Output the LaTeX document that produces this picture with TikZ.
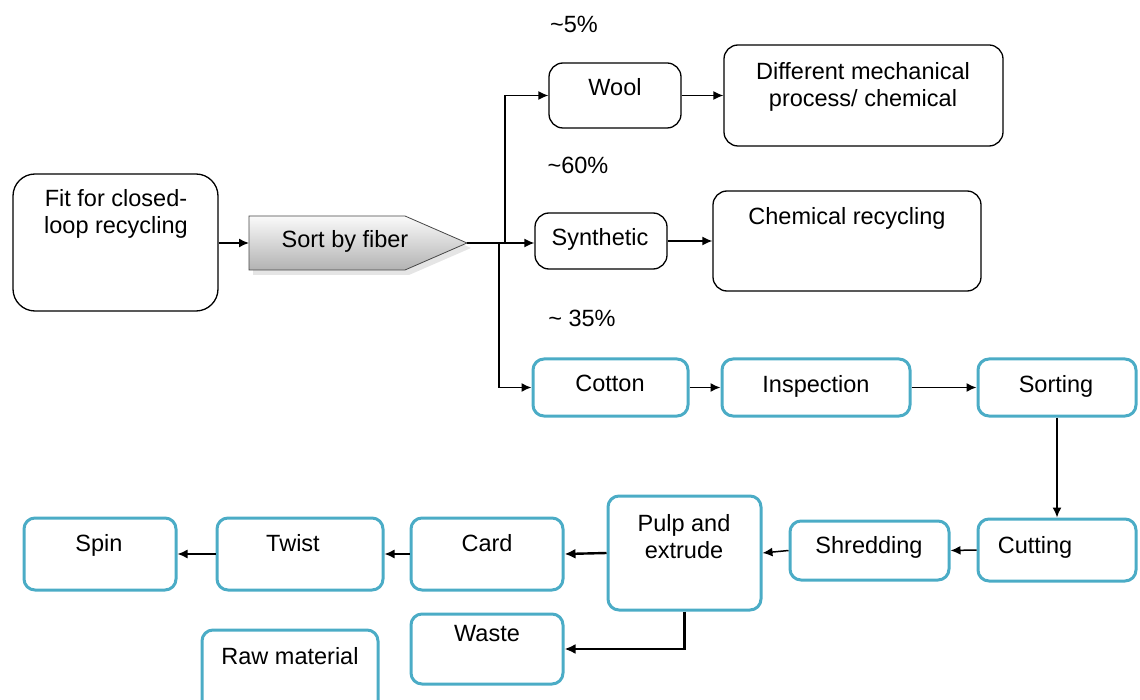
\documentclass[tikz,border=0pt]{standalone}
\usepackage{fontspec}
\setmainfont{Liberation Sans}
\usetikzlibrary{arrows.meta,shadows}
\definecolor{boxblue}{RGB}{75,172,198}
\begin{document}
\begin{tikzpicture}[x=1pt,y=-1pt,
  every node/.style={font=\fontsize{23.5}{27.5}\selectfont},
  plain/.style={draw=black, line width=1.3pt, rounded corners=14pt, inner sep=0pt},
  flow/.style={draw=boxblue, line width=3pt, rounded corners=11pt, inner sep=0pt},
  lbl/.style={anchor=north, inner sep=0pt, align=center},
  conn/.style={line width=1.5pt, -{Latex[length=10pt,width=9pt]}},
  heavy/.style={line width=2.4pt, -{Latex[length=11pt,width=10pt]}},
]
\useasboundingbox (0,0) rectangle (1140,700);

% ---- first stage: sorting by fibre ----
\node[plain, rounded corners=22pt, minimum width=205pt, minimum height=137pt] (fit) at (115.5,242.5) {};
\node[lbl] (fit-t) at (116,189) {Fit for closed-\\loop recycling};

\fill[gray!40, opacity=0.5] (253,221) -- (409,221) -- (471,248) -- (409,275) -- (253,275) -- cycle;
\shade[top color=gray!4, bottom color=gray!60, draw=gray!55!black, line width=0.8pt]
  (249,216) -- (405,216) -- (467,243) -- (405,270) -- (249,270) -- cycle;
\coordinate (sortin) at (249,243);
\coordinate (sortout) at (467,243);
\node[lbl] (sort) at (345,230) {Sort by fiber};

% ---- branches ----
\node[lbl] (p5) at (574,16) {\textasciitilde5\%};
\node[lbl] (p60) at (578,157) {\textasciitilde60\%};
\node[lbl] (p35) at (582,310) {\textasciitilde\ 35\%};

\node[plain, minimum width=132pt, minimum height=65pt] (wool) at (615,95.5) {};
\node[lbl] (wool-t) at (615,78) {Wool};
\node[plain, minimum width=279pt, minimum height=101pt] (diff) at (863.5,95.5) {};
\node[lbl] (diff-t) at (863,62) {Different mechanical\\process/ chemical};

\node[plain, minimum width=132pt, minimum height=56pt] (synth) at (601,241) {};
\node[lbl] (synth-t) at (600,228) {Synthetic};
\node[plain, minimum width=268pt, minimum height=100pt] (chem) at (847,241) {};
\node[lbl] (chem-t) at (847,207) {Chemical recycling};

% ---- cotton line ----
\node[flow, minimum width=155pt, minimum height=57pt] (cotton) at (610.5,387.5) {};
\node[lbl] (cotton-t) at (610,375) {Cotton};
\node[flow, minimum width=188pt, minimum height=57pt] (insp) at (816,387.5) {};
\node[lbl] (insp-t) at (816,375) {Inspection};
\node[flow, minimum width=158pt, minimum height=57pt] (sorting) at (1057,387.5) {};
\node[lbl] (sorting-t) at (1056,375) {Sorting};

\node[flow, minimum width=158pt, minimum height=62pt] (cutting) at (1057,550) {};
\node[lbl] (cutting-t) at (1035,536) {Cutting};
\node[flow, minimum width=159pt, minimum height=59pt] (shred) at (869.5,550.5) {};
\node[lbl] (shred-t) at (869,536) {Shredding};
\node[flow, minimum width=153pt, minimum height=114pt] (pulp) at (684.5,553) {};
\node[lbl] (pulp-t) at (684,514) {Pulp and\\extrude};
\node[flow, minimum width=152pt, minimum height=72pt] (card) at (487,554) {};
\node[lbl] (card-t) at (487,534) {Card};
\node[flow, minimum width=166pt, minimum height=72pt] (twist) at (300,554) {};
\node[lbl] (twist-t) at (293,534) {Twist};
\node[flow, minimum width=152pt, minimum height=72pt] (spin) at (100,554) {};
\node[lbl] (spin-t) at (99,534) {Spin};
\node[flow, minimum width=152pt, minimum height=70pt] (waste) at (487,649) {};
\node[lbl] (waste-t) at (487,625) {Waste};
\node[flow, minimum width=176pt, minimum height=85pt] (raw) at (290,672.5) {};
\node[lbl] (raw-t) at (290,647) {Raw material};

% ---- connectors ----
\coordinate (jup) at (505,243);
\coordinate (jdown) at (499,243);
\draw[conn] (fit.east |- sortin) -- (sortin);
\draw[conn] (sortout) -- (sortout -| synth.west);
\draw[conn] (jup) |- (wool.west);
\draw[conn] (jdown) |- (cotton.west);
\draw[conn] (wool.east) -- (diff.west);
\draw[conn] (synth.east) -- (chem.west);
\draw[conn] (cotton.east) -- (insp.west);
\draw[conn] (insp.east) -- (sorting.west);
\draw[conn] (sorting.south) -- (cutting.north);
\draw[conn] (cutting.west) -- (shred.east);
\draw[conn] (shred.west) -- (pulp.east);
\draw[heavy] (pulp.west) -- (card.east);
\draw[conn] (card.west) -- (twist.east);
\draw[conn] (twist.west) -- (spin.east);
\draw[heavy] (pulp.south) |- (waste.east);
\end{tikzpicture}
\end{document}
